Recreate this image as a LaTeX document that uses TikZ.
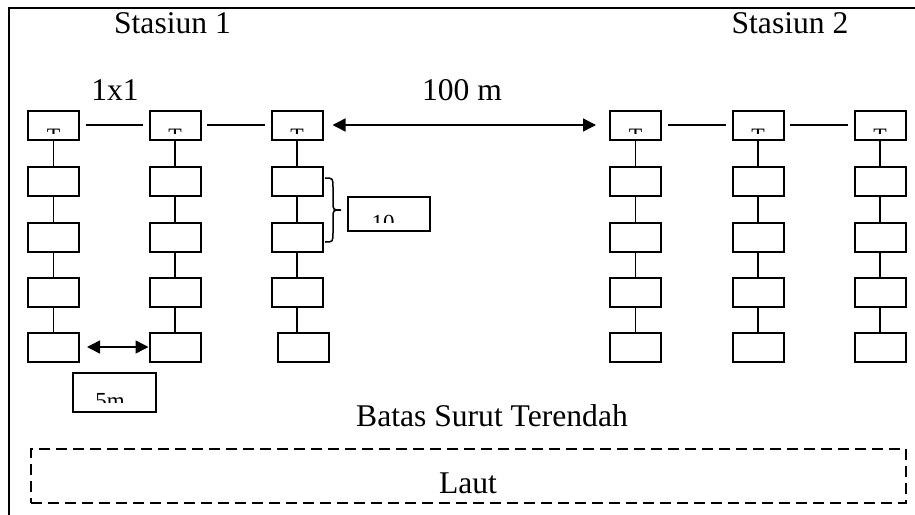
\documentclass[tikz,border=0pt]{standalone}
\usepackage{fontspec}
\setmainfont{Liberation Serif}
\usetikzlibrary{positioning,calc,arrows.meta}
\tikzset{font=\fontsize{15.8}{19}\selectfont}

\begin{document}
\begin{tikzpicture}[x=0.5pt, y=-0.5pt]
	\tikzstyle{plot}=[draw, line width=1pt, minimum width=25.5pt, minimum height=14.5pt, inner sep=0pt]
	\tikzstyle{tie}=[line width=0.75pt]
	\tikzstyle{dim}=[line width=0.75pt, {Triangle[length=6.5pt,width=6.5pt]}-{Triangle[length=6.5pt,width=6.5pt]}]
	\tikzstyle{cut}=[anchor=base, font=\fontsize{11.5}{14}\selectfont]
	\useasboundingbox (0, 0) rectangle (915, 514);
	\clip (0, 0) rectangle (915, 514);
	\draw [line width=1pt] (9, 7.5) rectangle (940, 540);

	% plots, 6 transects x 5 rows
	\foreach \c/\x/\xl in {1/53.5/53.5, 2/175/175, 3/297/303, 4/635.5/635.5, 5/758/758, 6/880/880} {
		\foreach \r/\y in {1/125, 2/181, 3/237, 4/292} {
			\node [plot] (q\c-\r) at (\x, \y) {};
		}
		\node [plot] (q\c-5) at (\xl, 347) {};
		\begin{scope}
			\clip (q\c-1.north west) rectangle ($(q\c-1.east)+(0,8)$);
			\node [anchor=base, font=\fontsize{11}{13}\selectfont] (t\c) at ($(q\c-1.center)+(0,18.5)$) {T};
		\end{scope}
	}
	\foreach \c in {1,...,6} {
		\foreach \r/\n in {1/2, 2/3, 3/4, 4/5} {
			\draw [tie] (q\c-\r.south) -- (q\c-\r.south |- q\c-\n.north);
		}
	}

	\draw [tie, shorten <=2.75pt, shorten >=2.75pt] (q1-1) to (q2-1);
	\draw [tie, shorten <=2.75pt, shorten >=2.75pt] (q2-1) to (q3-1);
	\draw [tie, shorten <=2.75pt, shorten >=2.75pt] (q4-1) to (q5-1);
	\draw [tie, shorten <=2.75pt, shorten >=2.75pt] (q5-1) to (q6-1);

	\node [anchor=base] (st1) at (172.5, 33) {Stasiun 1};
	\node [anchor=base] (st2) at (790, 33) {Stasiun 2};
	\node [anchor=base] (size) at (115, 100) {1x1};
	\node [anchor=base] (dist) at (462, 100) {100 m};
	\draw [dim, shorten <=4.5pt, shorten >=6.5pt] (q3-1) to (q4-1);
	\draw [dim, shorten <=3.5pt] (q1-5) to (q2-5);

	% brace and its label
	\draw [tie] (325, 178) .. controls (333, 178) .. (333, 188) -- (333, 202) .. controls (333, 210) .. (341, 210)
		.. controls (333, 210) .. (333, 218) -- (333, 232) .. controls (333, 242) .. (325, 242);
	\node [draw, line width=1pt, minimum width=41pt, minimum height=17pt, inner sep=0pt] (gap) at (389, 214) {};
	\begin{scope}
		\clip (348, 197) rectangle (430, 222);
		\node [cut] (gapnum) at (383, 230.5) {10};
	\end{scope}
	\node [draw, line width=1pt, minimum width=41.5pt, minimum height=19.5pt, inner sep=0pt] (step) at (114.5, 392.5) {};
	\begin{scope}
		\clip (73, 373) rectangle (156, 402);
		\node [cut] (stepnum) at (110, 408) {5m};
	\end{scope}

	\node [anchor=base] (batas) at (492, 426) {Batas Surut Terendah};
	\node [draw, line width=1pt, dash pattern=on 5.5pt off 3pt, minimum width=437.5pt, minimum height=27pt, inner sep=0pt] (sea) at (468.5, 476) {};
	\node [anchor=base] (laut) at (468, 493) {Laut};
\end{tikzpicture}
\end{document}
